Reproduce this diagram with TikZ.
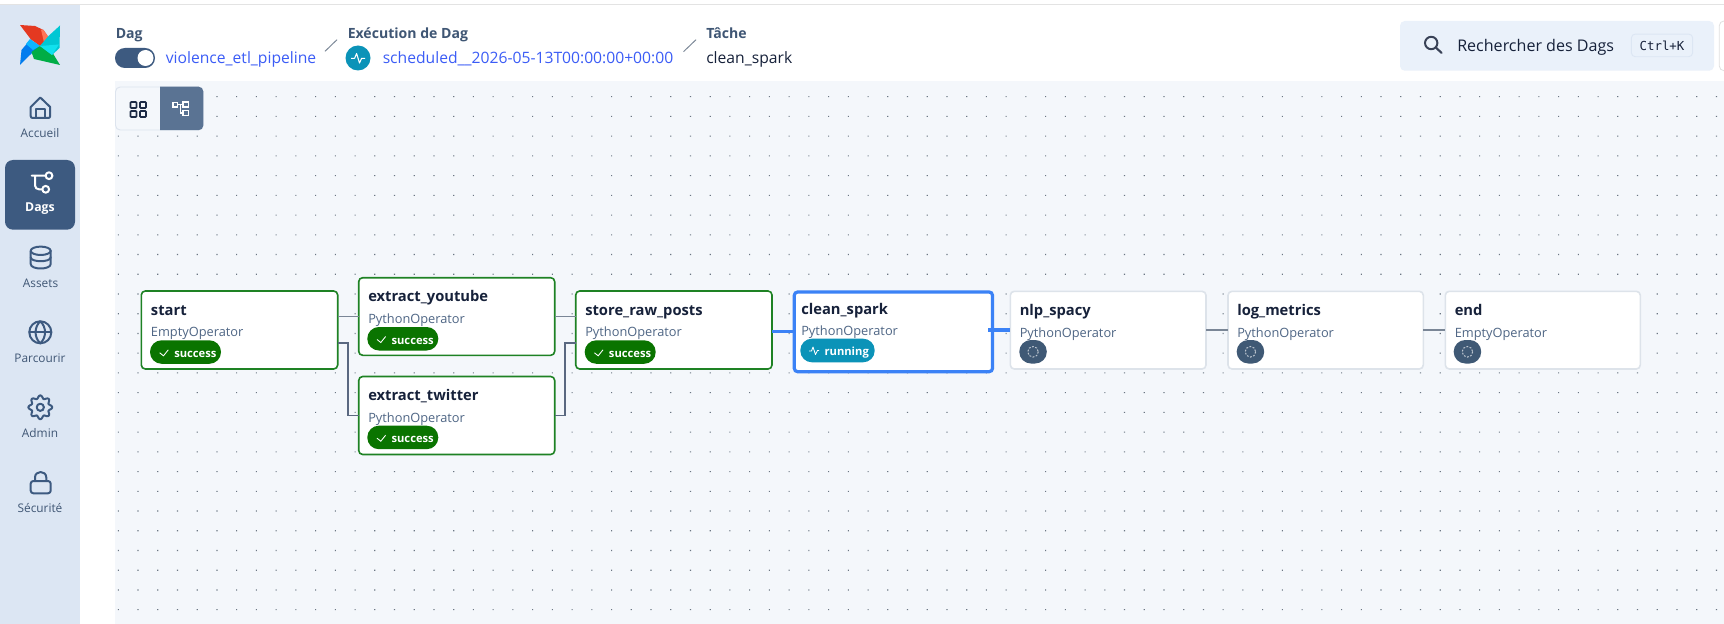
\documentclass[tikz,border=0pt]{standalone}
\usepackage{fontspec}
\setmainfont{Open Sans}
\newfontfamily\kbdfont{DejaVu Sans Mono}
\usetikzlibrary{calc}
\definecolor{sidebg}{HTML}{DCE6F3}
\definecolor{canvasbg}{HTML}{F4F7FB}
\definecolor{slate}{HTML}{3D5A80}
\definecolor{idlepill}{HTML}{3F5975}
\definecolor{labelc}{HTML}{3F5674}
\definecolor{linkc}{HTML}{3B5CF6}
\definecolor{inkc}{HTML}{16213A}
\definecolor{okgreen}{HTML}{0A7400}
\definecolor{okline}{HTML}{1E8224}
\definecolor{runblue}{HTML}{0B93B8}
\definecolor{selblue}{HTML}{3B82F6}
\definecolor{idleline}{HTML}{DDE3EA}
\definecolor{edgegray}{HTML}{7A8696}
\definecolor{edgedark}{HTML}{5A6880}
\definecolor{subc}{HTML}{4F6685}
\definecolor{dotc}{HTML}{6B7683}
\definecolor{searchbg}{HTML}{EAF1FA}
\definecolor{kbdline}{HTML}{DCE6F3}
\definecolor{logored}{HTML}{E43921}
\definecolor{logosalmon}{HTML}{FF7557}
\definecolor{logoblue}{HTML}{017CEE}
\definecolor{logosky}{HTML}{0CB6FF}
\definecolor{logogreen}{HTML}{00AD46}
\definecolor{logocyan}{HTML}{00C7D4}
\definecolor{logoaqua}{HTML}{11E1EE}
\tikzset{
  x=0.75pt,y=-0.75pt,
  box/.style={rectangle,inner sep=0pt,outer sep=0pt,fill=white},
  okbox/.style={box,draw=okline,line width=1.2pt,rounded corners=3pt},
  idlebox/.style={box,draw=idleline,line width=1.2pt,rounded corners=3pt},
  selbox/.style={box,draw=selblue,line width=2.4pt,rounded corners=2.5pt},
  tasktitle/.style={anchor=base west,inner sep=0pt,text=inkc,font=\fontsize{11.05pt}{13pt}\selectfont\bfseries},
  tasksub/.style={anchor=base west,inner sep=0pt,text=subc,font=\fontsize{9.6pt}{12pt}\selectfont},
  badgetext/.style={anchor=base west,inner sep=0pt,text=white,font=\fontsize{8.4pt}{10pt}\selectfont\bfseries},
  sidelabel/.style={inner sep=0pt,text=labelc,font=\fontsize{8.9pt}{10pt}\selectfont},
  headlabel/.style={anchor=base west,inner sep=0pt,text=labelc,font=\fontsize{10.55pt}{12pt}\selectfont\bfseries},
  headlink/.style={anchor=base west,inner sep=0pt,text=linkc,font=\fontsize{11.75pt}{13pt}\selectfont},
  icon/.style={draw=slate,line width=1.5pt,line cap=round,line join=round},
  crumb/.style={draw=edgegray,line width=0.7pt},
  edgeplain/.style={draw=edgegray,line width=1.3pt},
  edgebent/.style={draw=edgedark,line width=0.95pt},
  edgesel/.style={draw=selblue,line width=2.3pt},
}
\def\tdy{24}\def\sdy{45.7}
% #1 name, #2 x1, #3 y1, #4 x2, #5 y2, #6 style, #7 title, #8 sub, #9 text x
\newcommand\tasknode[9]{%
  \pgfmathsetmacro\tw{(#4-#2)*0.75}\pgfmathsetmacro\th{(#5-#3)*0.75}%
  \node[#6,minimum width=\tw pt,minimum height=\th pt] (#1) at ({(#2+#4)/2},{(#3+#5)/2}) {};
  \node[tasktitle] (#1-title) at (#9,{#3+\tdy}) {#7};
  \node[tasksub] (#1-sub) at (#9,{#3+\sdy}) {#8};
}
% success badge: #1 name, #2 x-left, #3 y-top
\newcommand\okbadge[3]{%
  \fill[okgreen,rounded corners=8.7pt] (#2,#3) rectangle ({#2+71},{#3+23.5});
  \draw[white,line width=0.65pt] ({#2+9.7},{#3+12.5}) -- ({#2+13.5},{#3+15.5}) -- ({#2+18.3},{#3+9.5});
  \node[badgetext] (#1) at ({#2+24},{#3+17}) {success};
}
% idle badge: #1 x-left, #2 y-top
\newcommand\idlebadge[2]{%
  \fill[idlepill,rounded corners=8.7pt] (#1,#2) rectangle ({#1+27.5},{#2+23.5});
  \draw[white!65!idlepill,line width=0.75pt,dash pattern=on 1.4pt off 1.1pt] ({#1+13.7},{#2+11.8}) circle[radius=5.3];
}
\begin{document}
\begin{tikzpicture}
\useasboundingbox (0,0) rectangle (1724,624);
\fill[white] (0,0) rectangle (1724,624);
\fill[black!11] (0,3.6) rectangle (1724,5.2);
\fill[sidebg] (0,5.2) rectangle (80,624);
\fill[canvasbg] (115,81) rectangle (1724,624);
% dot grid
\fill[dotc] foreach \i in {0,...,81}{ foreach \j in {0,...,27}{
  ({118.3+19.73*\i-0.55},{96.7+19.73*\j-0.55}) rectangle ++(1.1,1.1) }};
% logo
\fill[logored] (20,25) -- (35,26) -- (43.5,30) -- (49,38) -- (40,46) -- (31,39.5) -- cycle;
\fill[logosalmon] (43.5,30) -- (49,38) -- (44,42.5) -- (41,29.5) -- cycle;
\fill[logoblue] (20,65) -- (21.5,50) -- (30,40) -- (40,46) -- (30,55) -- cycle;
\fill[logosky] (26,44) -- (30,39) -- (40,46) -- (33,50) -- cycle;
\fill[logogreen] (60,65) -- (34,59) -- (31.5,52) -- (40,46) -- (52,52) -- cycle;
\fill[logocyan] (60,25.5) -- (59.5,48) -- (52,55) -- (40,46) -- (48.5,36) -- cycle;
\fill[logoaqua] (40,46) -- (59,44.5) -- (52,55) -- cycle;
% sidebar
\fill[slate,rounded corners=6pt] (5,160) rectangle (75,229.7);
% home
\draw[icon] (30.7,107) -- (40.3,97.5) -- (50.2,107) -- (50.2,116) .. controls (50.2,117.5) and (49.5,118) .. (48,118) -- (33,118) .. controls (31.5,118) and (30.7,117.5) .. (30.7,116) -- cycle;
\draw[icon] (35.8,118) -- (35.8,109) -- (45,109) -- (45,118);
\node[sidelabel] (lab-home) at (40,133.3) {Accueil};
% dags
\draw[icon,draw=white] (31.7,175.7) -- (45.5,175.7) (35,175.7) -- (35,185.5) .. controls (35,188) and (37,189.3) .. (39,189.3) -- (42.3,189.3);
\draw[icon,draw=white] (49,175.7) circle[radius=3.4] (45.7,189.3) circle[radius=3.4];
\node[sidelabel,text=white,font=\fontsize{9.2pt}{10pt}\selectfont\bfseries] (lab-dags) at (40,208.8) {Dags};
% assets
\draw[icon] (40.7,250.8) ellipse[x radius=10,y radius=4.2];
\draw[icon] (30.7,250.8) -- (30.7,264) .. controls (30.7,270) and (50.7,270) .. (50.7,264) -- (50.7,250.8);
\draw[icon] (30.7,257.3) .. controls (30.7,262.5) and (50.7,262.5) .. (50.7,257.3);
\node[sidelabel] (lab-assets) at (40.5,283.5) {Assets};
% globe
\draw[icon] (40.3,332.3) circle[radius=11];
\draw[icon] (29.3,332.3) -- (51.3,332.3);
\draw[icon] (40.3,321.3) .. controls (34,327) and (34,337.5) .. (40.3,343.3) .. controls (46.6,337.5) and (46.6,327) .. (40.3,321.3);
\node[sidelabel] (lab-browse) at (40,358.1) {Parcourir};
% gear
\draw[icon] plot[domain=0:360,samples=97,smooth] ({40.3+(10.4+1.5*cos(8*\x))*cos(\x)},{407.3+(10.4+1.5*cos(8*\x))*sin(\x)}) -- cycle;
\draw[icon] (40.3,407.3) circle[radius=3.6];
\node[sidelabel] (lab-admin) at (40,433.1) {Admin};
% lock
\draw[icon,rounded corners=2pt] (30.7,481) rectangle (50.7,493.3);
\draw[icon] (35,481) -- (35,477.5) .. controls (35,470.2) and (46.3,470.2) .. (46.3,477.5) -- (46.3,481);
\node[sidelabel] (lab-sec) at (40,508.3) {Sécurité};
% header
\node[headlabel] (h-dag) at (115.5,38.3) {Dag};
\fill[slate,rounded corners=7.4pt] (115,48) rectangle (155,68);
\fill[white] (145.5,58) circle[radius=8];
\node[headlink] (h-dagname) at (165.5,64) {violence\_etl\_pipeline};
\draw[crumb] (325,51.3) -- (337,39.7);
\node[headlabel] (h-run) at (347.5,38.3) {Exécution de Dag};
\fill[runblue] (358,58) circle[radius=12.5];
\draw[white,line width=0.8pt,line join=round] (351,58.3) -- (354.6,58.3) -- (356.6,53.5) -- (359.5,63) -- (361.6,58.3) -- (365,58.3);
\node[headlink] (h-runname) at (382.5,64) {scheduled\_\_2026-05-13T00:00:00+00:00};
\draw[crumb] (683.5,51.7) -- (696,39.7);
\node[headlabel] (h-task) at (706,38.3) {Tâche};
\node[headlink,text=inkc] (h-taskname) at (706,64) {clean\_spark};
% search
\fill[searchbg,rounded corners=3.5pt] (1400,21) rectangle (1714,70.7);
\draw[black!12,rounded corners=3.5pt,line width=0.6pt] (1730,21) -- (1719.3,21) -- (1719.3,70.7) -- (1730,70.7);
\draw[inkc!85!white,line width=1.5pt] (1431.2,43) circle[radius=6.2];
\draw[inkc!85!white,line width=1.6pt,line cap=round] (1436,47.8) -- (1441.5,52.8);
\node[anchor=base west,inner sep=0pt,text=inkc,font=\fontsize{12.05pt}{14pt}\selectfont] (search-label) at (1457,51.7) {Rechercher des Dags};
\node[draw=kbdline,fill=searchbg,line width=0.7pt,rounded corners=3pt,inner sep=0pt,outer sep=0pt,minimum width=46pt,minimum height=17pt,text=inkc,font=\kbdfont\fontsize{9.3pt}{11pt}\selectfont] (search-key) at (1662,45.4) {Ctrl+K};
% view toggle
\draw[idleline!50!kbdline,fill=canvasbg,line width=0.7pt,rounded corners=3.5pt] (115.5,87) rectangle (203,130);
\fill[slate!85!white] (160,86.7) [rounded corners=3.5pt] -- (203.3,86.7) -- (203.3,130.2) [sharp corners] -- (160,130.2) -- cycle;
\draw[inkc!85!slate,line width=1.2pt,rounded corners=0.5pt] (130.5,102) rectangle (136.5,108) (140,102) rectangle (146,108) (130.5,111) rectangle (136.5,117) (140,111) rectangle (146,117);
\draw[white,line width=1pt] (173,102.5) rectangle (177.5,107) (183,102) rectangle (188.5,107) (183,110.5) rectangle (188.5,115.5);
\draw[white,line width=1pt] (177.5,104.7) -- (183,104.7) (180.2,104.7) -- (180.2,113) -- (183,113);
% task nodes
\tasknode{start}{141.3}{291}{337.7}{369}{okbox}{start}{EmptyOperator}{150.7}
\tasknode{youtube}{358.7}{277.7}{554.7}{355.3}{okbox}{extract\_youtube}{PythonOperator}{368}
\tasknode{twitter}{358.7}{376.5}{554.7}{454.5}{okbox}{extract\_twitter}{PythonOperator}{368}
\tasknode{store}{575.7}{291}{772}{369}{okbox}{store\_raw\_posts}{PythonOperator}{585}
\coordinate (start-low) at (337.7,343);
\coordinate (store-low) at (575.7,343);
% connectors
\draw[edgeplain] (start.east |- youtube.west) -- (youtube.west);
\draw[edgebent] (start-low) -| (348,415.5) -- (twitter.west);
\draw[edgeplain] (youtube.east) -- (store.west |- youtube.east);
\draw[edgebent] (twitter.east) -- (565,415.5) |- (store-low);
\def\tdy{22}\def\sdy{43}
\tasknode{clean}{794.3}{292}{992.5}{371.7}{selbox}{clean\_spark}{PythonOperator}{801}
\def\tdy{24}\def\sdy{45.7}
\tasknode{nlp}{1010.3}{291.3}{1206}{369}{idlebox}{nlp\_spacy}{PythonOperator}{1019.5}
\tasknode{metrics}{1228}{291.3}{1423.3}{369}{idlebox}{log\_metrics}{PythonOperator}{1237}
\tasknode{end}{1445.3}{291.3}{1640.3}{369}{idlebox}{end}{EmptyOperator}{1454.5}
\draw[edgesel] (store.east |- clean.west) -- (clean.west);
\draw[edgesel] (988,330) -- (nlp.west |- 0,330);
\draw[edgeplain,line width=1.5pt] (nlp.east |- 0,330) -- (metrics.west |- 0,330);
\draw[edgeplain,line width=1.5pt] (metrics.east |- 0,330) -- (end.west |- 0,330);
% badges
\okbadge{start-badge}{150}{340.3}
\okbadge{youtube-badge}{367.3}{327}
\okbadge{twitter-badge}{367.3}{425.7}
\okbadge{store-badge}{584.7}{340.3}
\fill[runblue,rounded corners=8.7pt] (800.3,338.7) rectangle (874.7,362.3);
\draw[white,line width=0.65pt,line join=round] (809,351) -- (811.5,351) -- (813,347) -- (815.5,354.5) -- (817.5,350.5) -- (819,350.5);
\node[badgetext] (clean-badge) at (824.3,355.2) {running};
\idlebadge{1019.3}{340}
\idlebadge{1236.7}{340}
\idlebadge{1453.7}{340}
\end{tikzpicture}
\end{document}
